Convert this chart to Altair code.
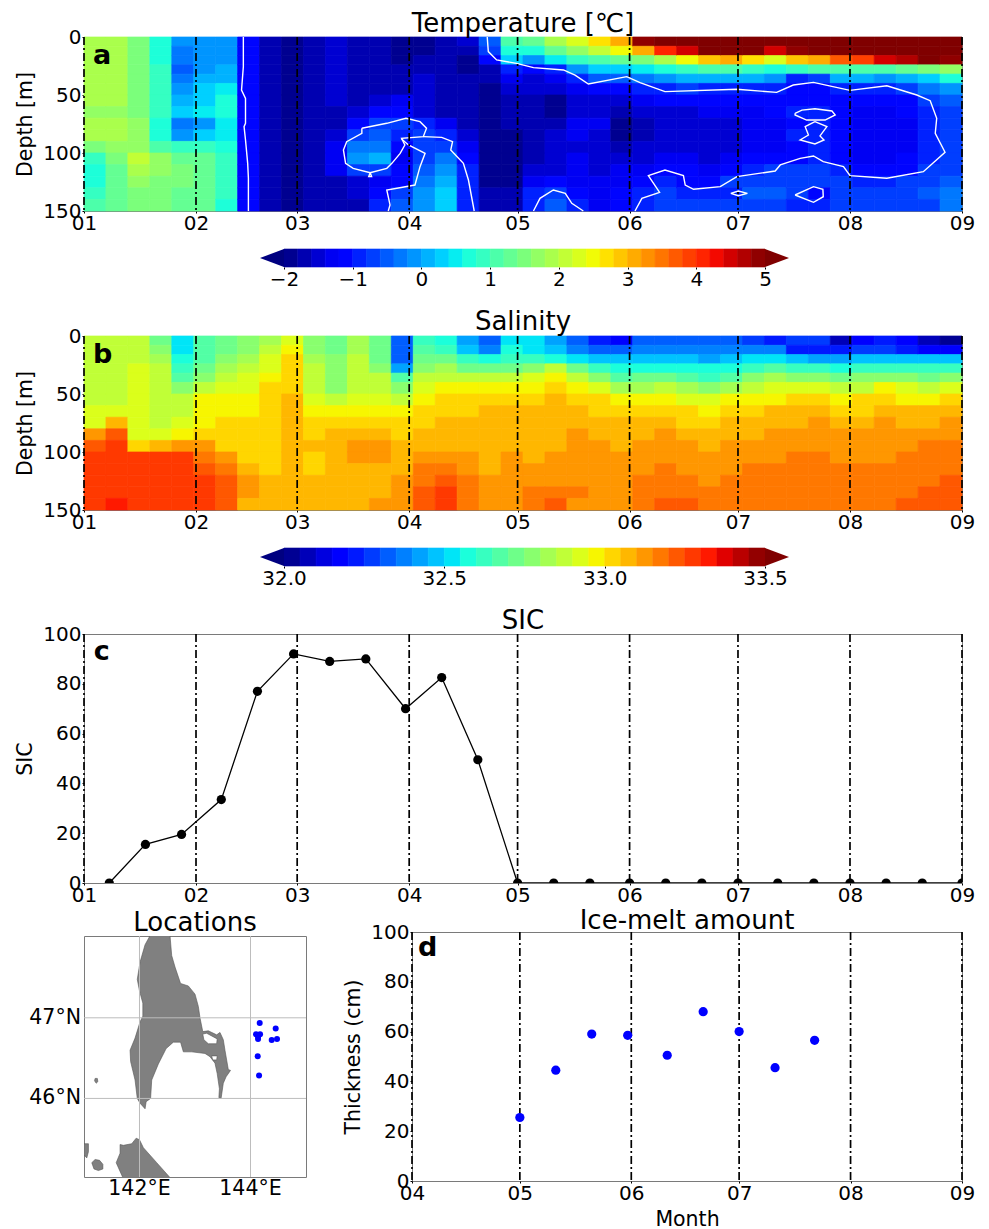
import altair as alt
import pandas as pd
from bisect import bisect_right

FONT = "DejaVu Sans"
MONTH_DAYS = [0, 31, 59, 90, 120, 151, 181, 212, 243]
MONTH_LABELS = ["01", "02", "03", "04", "05", "06", "07", "08", "09"]
D_MONTH_DAYS = [0, 30, 61, 91, 122, 153]
D_MONTH_LABELS = ["04", "05", "06", "07", "08", "09"]
DEPTH_EDGES = [0, 8, 16, 24, 32, 40, 50, 60, 70, 80, 90, 100, 110, 120, 130, 140, 150]
N_COLS = 40
TOTAL_DAYS = 243

# one inner list per time column, top to bottom
TEMP = [
 [1.9,1.9,1.9,1.9,1.9,1.8,1.8,1.7,1.9,1.8,1.4,0.9,0.6,0.6,0.8,1.0],
 [1.9,1.9,1.85,1.85,1.8,1.8,1.8,1.75,1.85,1.8,1.6,1.5,1.2,1.2,1.3,1.3],
 [1.4,1.4,1.4,1.4,1.4,1.4,1.4,1.5,1.6,1.6,1.7,2.0,1.9,1.6,1.5,1.5],
 [0.6,0.6,0.7,0.8,0.9,0.9,0.9,0.9,0.7,0.7,1.1,1.6,1.6,1.5,1.4,1.4],
 [-0.2,-0.3,-0.4,-0.5,-0.4,-0.2,0.1,0.3,-0.4,-0.1,0.8,1.3,1.4,1.4,1.3,1.3],
 [-0.2,-0.2,-0.2,-0.1,0.0,0.2,0.3,0.4,-0.2,0.2,0.8,1.2,1.3,1.3,1.3,1.3],
 [-0.1,-0.1,-0.1,0.0,0.1,0.5,0.6,0.7,0.4,0.4,0.7,0.9,0.9,0.8,0.8,0.7],
 [-1.2,-1.2,-1.2,-1.2,-1.2,-1.2,-1.2,-1.2,-1.2,-1.2,-1.2,-1.2,-1.2,-1.2,-1.2,-1.2],
 [-1.8,-1.8,-1.8,-1.8,-1.8,-1.8,-1.8,-1.8,-1.8,-1.8,-1.8,-1.8,-1.8,-1.8,-1.8,-1.8],
 [-1.9,-1.9,-1.9,-1.9,-1.9,-1.9,-1.9,-1.9,-1.9,-1.9,-1.9,-1.9,-1.9,-1.9,-1.9,-1.9],
 [-1.8,-1.7,-1.7,-1.7,-1.7,-1.7,-1.7,-1.8,-1.8,-1.8,-1.8,-1.8,-1.8,-1.8,-1.8,-1.8],
 [-1.6,-1.6,-1.6,-1.6,-1.6,-1.6,-1.6,-1.8,-1.8,-1.5,-1.3,-1.3,-1.4,-1.7,-1.8,-1.8],
 [-1.7,-1.8,-1.8,-1.8,-1.8,-1.8,-1.7,-1.6,-1.1,-0.7,-0.3,-0.2,-0.8,-1.6,-1.6,-1.7],
 [-1.8,-1.8,-1.8,-1.8,-1.8,-1.7,-1.6,-1.2,-0.8,-0.6,-0.3,0.0,-0.8,-1.3,-1.1,-0.9],
 [-1.9,-1.9,-1.9,-1.8,-1.7,-1.7,-1.4,-1.2,-0.8,-0.9,-1.1,-1.3,-1.2,-1.1,-0.8,-0.6],
 [-1.9,-1.9,-1.8,-1.7,-1.6,-1.5,-1.5,-1.5,-0.9,-0.8,-0.7,-0.7,-0.6,-0.4,-0.2,-0.1],
 [-1.8,-1.7,-1.7,-1.8,-1.7,-1.7,-1.7,-1.7,-1.4,-0.9,-0.7,-0.4,-0.1,0.1,0.3,0.3],
 [-1.5,-1.8,-1.9,-1.9,-1.8,-1.8,-1.8,-1.8,-1.7,-1.5,-1.3,-1.2,-1.0,-0.9,-0.9,-0.9],
 [-0.6,-0.7,-1.2,-1.7,-1.8,-1.9,-1.9,-1.9,-1.9,-1.9,-1.9,-1.9,-1.9,-1.9,-1.8,-1.7],
 [1.0,0.7,0.2,-1.0,-1.3,-1.6,-1.7,-1.8,-1.8,-1.9,-1.9,-1.9,-1.9,-1.9,-1.8,-1.8],
 [1.3,0.6,-0.2,-1.1,-1.5,-1.6,-1.8,-1.8,-1.7,-1.8,-1.8,-1.8,-1.6,-1.4,-1.0,-0.9],
 [1.9,1.3,0.5,-0.9,-1.3,-1.6,-1.9,-1.9,-1.7,-1.6,-1.6,-1.6,-1.5,-1.2,-0.7,-0.5],
 [2.3,1.6,0.8,-0.2,-0.9,-1.3,-1.5,-1.5,-1.4,-1.4,-1.5,-1.4,-1.4,-1.3,-1.1,-1.0],
 [2.7,2.1,1.1,0.2,-0.5,-1.2,-1.5,-1.5,-1.4,-1.5,-1.6,-1.6,-1.5,-1.4,-1.3,-1.3],
 [3.0,2.4,1.3,0.2,-0.5,-1.1,-1.6,-1.8,-1.9,-1.9,-1.8,-1.6,-1.4,-1.3,-1.2,-1.2],
 [4.8,3.0,1.5,0.5,-0.3,-1.0,-1.4,-1.6,-1.7,-1.7,-1.6,-1.5,-1.3,-1.1,-0.9,-0.9],
 [5.0,4.0,1.9,0.7,-0.1,-0.9,-1.2,-1.5,-1.6,-1.6,-1.6,-1.4,-1.1,-0.9,-0.8,-0.8],
 [5.0,4.5,2.4,0.9,0.0,-0.8,-1.2,-1.5,-1.6,-1.6,-1.6,-1.4,-1.2,-1.1,-0.9,-0.8],
 [5.0,5.0,2.8,1.0,0.0,-0.9,-1.2,-1.4,-1.6,-1.6,-1.6,-1.5,-1.3,-1.1,-0.9,-0.8],
 [5.0,5.0,3.0,1.1,0.1,-0.9,-1.2,-1.4,-1.6,-1.6,-1.6,-1.4,-1.1,-0.8,-0.9,-0.8],
 [5.0,5.0,2.6,0.9,0.0,-1.0,-1.2,-1.3,-1.4,-1.4,-1.3,-1.2,-1.0,-0.7,-0.6,-0.8],
 [5.0,4.5,2.2,0.7,-0.2,-0.9,-1.1,-1.2,-1.3,-1.3,-1.3,-1.1,-0.8,-0.7,-0.6,-0.7],
 [5.0,4.9,2.8,0.9,-0.9,-1.1,-1.2,-0.9,-1.1,-0.9,-1.1,-1.1,-0.8,-0.7,-0.8,-0.9],
 [5.0,5.0,3.1,1.0,-0.7,-1.1,-1.1,-0.9,-1.0,-0.9,-1.0,-0.9,-0.7,-0.7,-1.05,-0.9],
 [5.0,5.0,3.6,1.1,0.0,-1.0,-1.2,-1.1,-1.2,-1.2,-1.2,-1.1,-0.9,-0.8,-0.8,-0.8],
 [5.0,5.0,3.8,1.0,0.0,-1.0,-1.2,-1.3,-1.3,-1.3,-1.3,-1.3,-1.2,-0.9,-0.8,-0.8],
 [5.0,5.0,4.4,1.0,-0.1,-1.0,-1.2,-1.3,-1.4,-1.3,-1.3,-1.3,-1.2,-0.9,-0.8,-0.8],
 [5.0,5.0,4.7,1.2,0.1,-0.8,-1.1,-1.2,-1.3,-1.3,-1.3,-1.2,-1.1,-0.8,-0.7,-0.7],
 [5.0,5.0,5.0,1.5,0.3,-0.4,-0.8,-0.9,-0.9,-1.0,-1.0,-0.9,-0.8,-0.7,-0.6,-0.7],
 [5.0,5.0,4.8,1.6,0.6,-0.2,-0.6,-0.7,-0.7,-0.7,-0.8,-0.7,-0.7,-0.6,-0.4,-0.3],
]

SALT = [
 [32.87,32.87,32.87,32.87,32.87,32.87,32.87,32.92,32.92,33.1,33.2,33.25,33.25,33.25,33.25,33.25],
 [32.87,32.87,32.87,32.87,32.87,32.87,32.87,32.92,33.05,33.2,33.27,33.27,33.27,33.27,33.27,33.3],
 [32.87,32.87,32.87,32.92,32.92,32.92,32.92,32.92,32.92,32.92,33.0,33.27,33.27,33.27,33.27,33.27],
 [32.72,32.77,32.8,32.85,32.87,32.87,32.87,32.87,32.87,32.92,33.05,33.27,33.27,33.27,33.27,33.27],
 [32.5,32.5,32.55,32.6,32.67,32.75,32.87,32.87,32.92,32.97,33.1,33.25,33.27,33.27,33.27,33.27],
 [32.67,32.67,32.67,32.7,32.75,32.87,32.95,32.95,32.95,33.02,33.1,33.17,33.22,33.25,33.25,33.25],
 [32.72,32.72,32.75,32.8,32.85,32.92,32.97,32.97,33.0,33.02,33.03,33.12,33.15,33.2,33.22,33.22],
 [32.77,32.77,32.82,32.87,32.92,32.92,32.97,32.97,33.0,33.02,33.03,33.03,33.07,33.1,33.1,33.08],
 [32.82,32.85,32.9,32.92,32.97,33.0,33.02,33.02,33.02,33.02,33.02,33.02,33.02,33.07,33.07,33.07],
 [32.92,32.95,33.0,33.02,33.03,33.03,33.05,33.07,33.05,33.07,33.07,33.07,33.07,33.07,33.07,33.07],
 [32.77,32.77,32.82,32.85,32.87,32.87,32.92,32.97,33.02,33.03,33.05,33.03,33.03,33.07,33.07,33.07],
 [32.72,32.72,32.77,32.77,32.77,32.77,32.87,32.95,33.02,33.05,33.07,33.07,33.07,33.07,33.07,33.07],
 [32.82,32.82,32.85,32.85,32.85,32.85,32.9,32.95,33.02,33.07,33.1,33.12,33.08,33.07,33.07,33.07],
 [32.7,32.7,32.72,32.77,32.85,32.87,32.92,32.97,33.02,33.07,33.1,33.1,33.07,33.07,33.07,33.12],
 [32.3,32.3,32.3,32.4,32.67,32.77,32.87,32.95,33.02,33.03,33.07,33.07,33.07,33.1,33.12,33.12],
 [32.62,32.67,32.72,32.77,32.85,32.92,32.97,33.02,33.03,33.05,33.07,33.12,33.15,33.17,33.2,33.22],
 [32.55,32.6,32.72,32.82,32.87,32.97,33.02,33.03,33.05,33.05,33.07,33.13,33.18,33.22,33.25,33.25],
 [32.4,32.45,32.6,32.72,32.87,32.97,33.02,33.03,33.05,33.05,33.07,33.1,33.12,33.17,33.17,33.17],
 [32.3,32.37,32.55,32.72,32.85,32.97,33.02,33.05,33.05,33.07,33.07,33.07,33.07,33.12,33.12,33.12],
 [32.5,32.55,32.62,32.72,32.85,32.95,33.02,33.05,33.07,33.07,33.07,33.1,33.12,33.12,33.12,33.12],
 [32.5,32.52,32.6,32.75,32.92,32.97,33.02,33.07,33.07,33.07,33.07,33.07,33.12,33.12,33.17,33.17],
 [32.42,32.47,32.55,32.85,32.97,33.02,33.05,33.07,33.07,33.07,33.07,33.12,33.12,33.12,33.17,33.22],
 [32.3,32.37,32.5,32.7,32.87,32.97,33.02,33.07,33.07,33.12,33.12,33.12,33.12,33.12,33.17,33.12],
 [32.2,32.32,32.47,32.62,32.77,32.92,33.02,33.03,33.07,33.07,33.12,33.12,33.12,33.12,33.12,33.12],
 [32.15,32.32,32.45,32.55,32.67,32.82,32.97,33.02,33.05,33.07,33.07,33.12,33.12,33.12,33.12,33.12],
 [32.3,32.37,32.47,32.57,32.7,32.82,32.97,33.02,33.07,33.07,33.12,33.12,33.12,33.17,33.17,33.17],
 [32.32,32.37,32.47,32.57,32.7,32.87,32.97,33.02,33.07,33.12,33.12,33.12,33.17,33.17,33.17,33.22],
 [32.32,32.37,32.45,32.55,32.65,32.8,32.92,33.0,33.02,33.07,33.12,33.12,33.12,33.17,33.17,33.2],
 [32.32,32.37,32.42,32.55,32.62,32.75,32.9,32.97,33.02,33.07,33.07,33.12,33.12,33.12,33.17,33.17],
 [32.3,32.35,32.45,32.55,32.67,32.82,32.95,33.02,33.05,33.07,33.12,33.12,33.12,33.17,33.17,33.17],
 [32.25,32.35,32.5,32.62,32.75,32.87,32.97,33.02,33.07,33.07,33.12,33.12,33.17,33.17,33.17,33.17],
 [32.2,32.35,32.52,32.67,32.8,32.9,32.97,33.05,33.07,33.12,33.12,33.12,33.17,33.17,33.17,33.17],
 [32.25,32.2,32.45,32.62,32.75,32.92,33.02,33.05,33.07,33.12,33.12,33.17,33.17,33.17,33.17,33.17],
 [32.25,32.2,32.42,32.6,32.75,32.92,33.02,33.07,33.12,33.12,33.12,33.17,33.17,33.17,33.17,33.17],
 [32.05,32.2,32.42,32.57,32.7,32.87,32.97,33.02,33.07,33.12,33.12,33.12,33.17,33.17,33.17,33.17],
 [32.15,32.25,32.47,32.6,32.75,32.87,33.0,33.02,33.07,33.12,33.12,33.12,33.17,33.17,33.17,33.17],
 [32.2,32.25,32.47,32.62,32.77,32.95,33.02,33.05,33.1,33.12,33.12,33.12,33.17,33.17,33.17,33.17],
 [32.15,32.22,32.47,32.62,32.75,32.9,32.97,33.05,33.07,33.12,33.12,33.17,33.17,33.17,33.17,33.22],
 [32.05,32.17,32.45,32.6,32.72,32.87,32.97,33.05,33.07,33.12,33.17,33.17,33.17,33.17,33.22,33.22],
 [32.03,32.15,32.45,32.6,32.75,32.9,33.0,33.07,33.12,33.12,33.17,33.17,33.17,33.2,33.22,33.22],
]

# white contour lines of panel a: (day, depth)
CONTOURS = [
 [(44.1,0),(44.1,25.6),(43.6,45.7),(44.7,52.9),(44.7,74.4),(44.3,77.3),(44.7,88.8),(45.3,108.9),(45.5,121.8),(45.5,150)],
 [(76.9,78.7),(83.8,74.4),(89.1,70.1),(93.0,73),(94.8,78.7),(93.9,85.9),(87.9,87.4),(88.8,93.1),(87.5,100.3),(85.2,108.9),(83.8,113.2),(79.2,117),(74.5,113.2),(72.4,108.9),(71.8,97.4),(72.7,90.2),(76.9,83),(76.9,78.7)],
 [(93.9,85.9),(99.0,86.5),(102.0,90.2),(101.5,97.4),(105,108.9),(106.4,123.3),(108,150)],
 [(87.9,88),(89.8,93.1),(94.4,100.3),(93.0,111.8),(91.6,127.6),(83.8,131.9),(84.7,144.8),(84.2,150)],
 [(111.6,0),(111.9,12.6),(114.2,19.8),(119.7,22.7),(124.4,26.4),(132.7,28.4),(135.9,32.8),(139.6,40.5),(150.2,34.2),(153.9,39.4),(160.8,47.1),(180.7,45.1),(191.7,47.7),(196.3,41.4),(201.9,39.1),(212,46),(222.2,42),(230.5,50),(234.2,54.9),(236,70.1),(235.6,83),(238.3,99.4),(232.3,116.1),(222.2,121.8),(212,119.5),(210.2,111.8),(204.6,107.5),(201.9,102.6),(198.2,104.6),(192.7,110.3),(191.3,115.5),(180.7,120.4),(176.1,129),(168.7,131.3),(166.4,127.6),(165.9,119.5),(160.8,114.7),(156.2,119.5),(159.3,133.9),(154.4,139.1),(152.5,150)],
 [(124.4,150),(126.2,139.1),(129.9,131.9),(133.2,134.8),(135,143.4),(138.2,150)],
 [(196.8,65.8),(198.7,63),(202.3,61.8),(207,63.8),(207.9,67.2),(205.1,71.6),(200,71.6),(196.8,67.2),(196.8,65.8)],
 [(202.3,73),(205.6,77.3),(203.7,85.3),(204.8,88.8),(202.3,92.2),(198.2,88.8),(200.5,84.5),(199.6,77.3),(202.3,73)],
 [(179,134.8),(181.1,132.8),(183.6,134.8),(181.1,136.8),(179,134.8)],
 [(196.8,136.2),(201.9,129),(204.5,131.3),(204.6,137.7),(201.9,142.5),(196.8,136.2)],
 [(79.2,117),(78.8,120.4),(79.6,120.4),(79.2,117)],
]

SIC_DAYS = [7,17,27,38,48,58,68,78,89,99,109,120,130,140,151,161,171,181,192,202,212,222,232,243]
SIC_VALUES = [0,15.5,19.5,33.5,77,92,89,90,70,82.5,49.5,0,0,0,0,0,0,0,0,0,0,0,0,0]

MELT_DAYS = [30,40,50,60,71,81,91,101,112]
MELT_VALUES = [25.5,44.5,59,58.5,50.5,68,60,45.5,56.5]

STN_LON = [144.166,144.454,144.10,144.172,144.136,144.136,144.382,144.478,144.13,144.154]
STN_LAT = [46.937,46.867,46.796,46.796,46.767,46.738,46.726,46.738,46.526,46.286]

LAND_MAIN = [(142.19,48.0),(142.55,48.0),(142.58,47.76),(142.64,47.62),(142.74,47.42),(142.88,47.39),(143.00,47.29),(143.06,47.14),(143.09,47.00),(143.14,46.83),(143.24,46.84),(143.39,46.79),(143.45,46.82),(143.51,46.73),(143.54,46.60),(143.60,46.36),(143.64,46.35),(143.56,46.27),(143.51,46.19),(143.47,46.00),(143.43,46.01),(143.44,46.12),(143.40,46.31),(143.36,46.44),(143.27,46.52),(143.18,46.56),(142.94,46.58),(142.79,46.58),(142.74,46.70),(142.61,46.70),(142.48,46.62),(142.34,46.43),(142.22,46.23),(142.20,46.00),(142.12,45.96),(142.10,45.87),(142.01,45.94),(141.96,46.00),(141.92,46.23),(141.84,46.46),(141.83,46.60),(141.92,46.75),(142.01,46.95),(142.06,47.02),(142.06,47.18),(142.00,47.33),(141.96,47.47),(142.01,47.68),(142.10,47.89),(142.19,48.0)]
LAGOON_A = [(143.14,46.80),(143.16,46.73),(143.24,46.68),(143.39,46.68),(143.40,46.74),(143.21,46.81),(143.14,46.80)]
LAGOON_B = [(143.30,46.53),(143.32,46.48),(143.39,46.48),(143.40,46.53),(143.30,46.53)]
LAND_SOUTH = [(141.58,45.19),(141.65,45.31),(141.65,45.42),(141.71,45.41),(141.86,45.43),(141.94,45.50),(142.00,45.48),(142.07,45.38),(142.31,45.19),(142.55,45.0),(141.70,45.0),(141.58,45.19)]
LAND_OVAL = [(141.14,45.19),(141.20,45.23),(141.28,45.22),(141.34,45.17),(141.34,45.11),(141.26,45.09),(141.18,45.11),(141.14,45.19)]
LAND_LEFT = [(141.0,45.43),(141.08,45.43),(141.08,45.33),(141.05,45.25),(141.0,45.29),(141.0,45.43)]
LAND_TINY = [(141.20,46.25),(141.24,46.25),(141.25,46.21),(141.22,46.19),(141.19,46.22),(141.20,46.25)]
GRID_LON = [142, 144]
GRID_LAT = [46, 47]

TEMP_LEVELS = [round(-2 + 0.2 * i, 1) for i in range(36)]
SALT_LEVELS = [round(32 + 0.05 * i, 2) for i in range(31)]

FRAME = "#7a7a7a"
GAPS = {"a_bar": 38, "bar_b": 69, "b_bar": 38, "bar_c": 68, "c_row": 49}
BAR_H = 18
PANEL_W = 878
TITLE_SIZE = 26
LETTER_SIZE = 27


def jet(t):
    def seg(pts):
        for (x0, y0), (x1, y1) in zip(pts, pts[1:]):
            if t <= x1:
                return y0 + (y1 - y0) * (t - x0) / (x1 - x0)
        return pts[-1][1]
    r = seg([(0, 0), (0.35, 0), (0.66, 1), (0.89, 1), (1, 0.5)])
    g = seg([(0, 0), (0.125, 0), (0.375, 1), (0.64, 1), (0.91, 0), (1, 0)])
    b = seg([(0, 0.5), (0.11, 1), (0.34, 1), (0.65, 0), (1, 0)])
    return "#%02x%02x%02x" % (round(r * 255), round(g * 255), round(b * 255))


def level_colors(levels):
    n = len(levels) - 1
    return [jet((i + 0.5) / n) for i in range(n)]


def month_expr(days, labels):
    return "{" + ",".join(f"'{d}':'{l}'" for d, l in zip(days, labels)) + "}[datum.value]"


def x_enc(field, days, labels, domain, title=None, title_pad=2):
    return alt.X(field, scale=alt.Scale(domain=domain, nice=False, zero=False),
                 axis=alt.Axis(values=days, labelExpr=month_expr(days, labels), title=title, titlePadding=title_pad,
                               labelOverlap=False, labelFlush=False, labelPadding=0))


def rules(days, xe):
    return (alt.Chart(pd.DataFrame({"day": days}))
            .mark_rule(color="black", strokeWidth=1.7, strokeDash=[8, 3, 2, 3], clip=False)
            .encode(x=xe))


def letter(text, day, val, xe, ye):
    return (alt.Chart(pd.DataFrame({"day": [day], "val": [val], "t": [text]}))
            .mark_text(font=FONT, fontWeight="bold", fontSize=LETTER_SIZE, align="left", baseline="middle", color="black")
            .encode(x=xe, y=ye, text="t:N"))


def heading(text, offset):
    return alt.Title(text, fontSize=TITLE_SIZE, font=FONT, fontWeight="normal", offset=offset)


def heat_panel(matrix, levels, title, mark_letter, title_offset, contours=None):
    colors = level_colors(levels)
    palette = [colors[0]] + colors + [jet(1.0)]
    rows = []
    for i, col in enumerate(matrix):
        for j, v in zip(range(len(DEPTH_EDGES) - 1), col, strict=True):
            rows.append({"day": i * TOTAL_DAYS / N_COLS, "x1": (i + 1) * TOTAL_DAYS / N_COLS,
                         "val": DEPTH_EDGES[j], "y1": DEPTH_EDGES[j + 1], "v": v,
                         "c": palette[bisect_right(levels, v)]})
    dom = [0, TOTAL_DAYS]
    xd = x_enc("day:Q", MONTH_DAYS, MONTH_LABELS, dom)
    yd = alt.Y("val:Q", scale=alt.Scale(domain=[0, 150], reverse=True, nice=False, zero=False),
               axis=alt.Axis(values=[0, 50, 100, 150], title="Depth [m]", titlePadding=7, labelPadding=1))
    heat = (alt.Chart(pd.DataFrame(rows))
            .mark_rect(strokeWidth=0.7).encode(
        x=xd, x2="x1:Q", y=yd, y2="y1:Q",
        color=alt.Color("c:N", scale=None), stroke=alt.Stroke("c:N", scale=None)))
    layers = [heat]
    if contours:
        crow = []
        for k, line in enumerate(contours):
            for o, (d, z) in enumerate(line):
                crow.append({"day": d, "val": z, "k": k, "o": o})
        layers.append(alt.Chart(pd.DataFrame(crow)).mark_line(color="white", strokeWidth=1.4).encode(
            x=xd, y=yd, detail="k:N", order="o:Q"))
    layers.append(rules(MONTH_DAYS, xd))
    layers.append(letter(mark_letter, 2.5, 16, xd, yd))
    return alt.layer(*layers, title=heading(title, title_offset)).properties(
        width=PANEL_W, height=174, view=alt.ViewConfig(stroke=FRAME))


def colorbar(levels, ticks, fmt, ext):
    colors = level_colors(levels)
    df = pd.DataFrame({"p": levels[:-1], "hi": levels[1:], "c": colors})
    xe = alt.X("p:Q", scale=alt.Scale(domain=[levels[0], levels[-1]], range=[200, 681], nice=False, zero=False),
               axis=alt.Axis(values=ticks, format=fmt, title=None, labelPadding=0, labelFlush=False))
    rect = alt.Chart(df).mark_rect(strokeWidth=0.6).encode(
        x=xe, x2="hi:Q", y=alt.value(0), y2=alt.value(BAR_H),
        color=alt.Color("c:N", scale=None), stroke=alt.Stroke("c:N", scale=None))
    left = alt.Chart(pd.DataFrame({"p": [levels[0] - ext]})).mark_point(
        filled=True, opacity=1, size=576, shape="M1,-0.75L-1,0L1,0.75Z", color=jet(0.0), strokeWidth=0).encode(
        x=xe, y=alt.value(BAR_H / 2))
    right = alt.Chart(pd.DataFrame({"p": [levels[-1] + ext]})).mark_point(
        filled=True, opacity=1, size=576, shape="M-1,-0.75L1,0L-1,0.75Z", color=jet(1.0), strokeWidth=0).encode(
        x=xe, y=alt.value(BAR_H / 2))
    return alt.layer(rect, left, right).properties(width=PANEL_W, height=BAR_H, view=alt.ViewConfig(stroke=None))


def spacer(h):
    return alt.Chart(pd.DataFrame({"s": [0]})).mark_point(opacity=0).encode(
        x=alt.value(0), y=alt.value(0)).properties(width=PANEL_W, height=h, view=alt.ViewConfig(stroke=None))


def sic_panel():
    xd = x_enc("day:Q", MONTH_DAYS, MONTH_LABELS, [0, TOTAL_DAYS])
    yd = alt.Y("val:Q", scale=alt.Scale(domain=[0, 100], nice=False, zero=False),
               axis=alt.Axis(values=[0, 20, 40, 60, 80, 100], title="SIC", titlePadding=7, labelPadding=1))
    df = pd.DataFrame({"day": SIC_DAYS, "val": SIC_VALUES})
    line = alt.Chart(df).mark_line(color="black", strokeWidth=1.3, clip=True).encode(x=xd, y=yd)
    pts = alt.Chart(df).mark_circle(color="black", size=85, opacity=1, clip=True).encode(x=xd, y=yd)
    return alt.layer(rules(MONTH_DAYS, xd), line, pts, letter("c", 2.7, 92.8, xd, yd),
                     title=heading("SIC", -10)).properties(
        width=PANEL_W, height=249, view=alt.ViewConfig(stroke=FRAME))


def melt_panel():
    xd = x_enc("day:Q", D_MONTH_DAYS, D_MONTH_LABELS, [0, 153], "Month", 6)
    yd = alt.Y("val:Q", scale=alt.Scale(domain=[0, 100], nice=False, zero=False),
               axis=alt.Axis(values=[0, 20, 40, 60, 80, 100], title="Thickness (cm)", titlePadding=7, labelPadding=1))
    df = pd.DataFrame({"day": MELT_DAYS, "val": MELT_VALUES})
    pts = alt.Chart(df).mark_circle(color="#0000ff", size=85, opacity=1).encode(x=xd, y=yd)
    return alt.layer(rules(D_MONTH_DAYS, xd), pts, letter("d", 1.7, 93.6, xd, yd),
                     title=heading("Ice-melt amount", -12)).properties(
        width=550, height=249, view=alt.ViewConfig(stroke=FRAME))


def feature(rings):
    return {"type": "Feature", "properties": {},
            "geometry": {"type": "Polygon", "coordinates": [[list(p) for p in r] for r in rings]}}


def map_panel():
    feats = [feature([LAND_MAIN, LAGOON_A, LAGOON_B]), feature([LAND_SOUTH]), feature([LAND_OVAL]),
             feature([LAND_LEFT]), feature([LAND_TINY])]
    proj = dict(type="mercator", scale=3180, center=[143, 46.5], translate=[111, 122.3])
    land = alt.Chart(alt.Data(values=feats)).mark_geoshape(fill="#808080", stroke="#555555", strokeWidth=0.6)
    g = []
    for k, lon in enumerate(GRID_LON):
        g += [{"lon": lon, "lat": 45, "g": f"x{k}", "o": 0}, {"lon": lon, "lat": 48, "g": f"x{k}", "o": 1}]
    for k, lat in enumerate(GRID_LAT):
        g += [{"lon": 141, "lat": lat, "g": f"y{k}", "o": 0}, {"lon": 145, "lat": lat, "g": f"y{k}", "o": 1}]
    grid = alt.Chart(pd.DataFrame(g)).mark_line(color="#bdbdbd", strokeWidth=1).encode(
        longitude="lon:Q", latitude="lat:Q", detail="g:N", order="o:Q")
    pts = alt.Chart(pd.DataFrame({"lon": STN_LON, "lat": STN_LAT})).mark_circle(color="#0000ff", size=36, opacity=1).encode(
        longitude="lon:Q", latitude="lat:Q")
    lon_lab = alt.Chart(pd.DataFrame({"lon": GRID_LON, "lat": [45, 45], "t": [f"{v}°E" for v in GRID_LON]})).mark_text(
        font=FONT, fontSize=20.5, baseline="top", dy=1, color="black", clip=False).encode(longitude="lon:Q", latitude="lat:Q", text="t:N")
    lat_lab = alt.Chart(pd.DataFrame({"lon": [141, 141], "lat": GRID_LAT, "t": [f"{v}°N" for v in GRID_LAT]})).mark_text(
        font=FONT, fontSize=20.5, align="right", dx=-3, color="black", clip=False).encode(longitude="lon:Q", latitude="lat:Q", text="t:N")
    return alt.layer(land, grid, pts, lon_lab, lat_lab,
                     title=heading("Locations", 0)).project(**proj).properties(
        width=222, height=241, view=alt.ViewConfig(stroke=FRAME))


bottom = alt.hconcat(map_panel(), melt_panel(), spacing=106, bounds="flush", center=True)

chart = alt.vconcat(
    heat_panel(TEMP, TEMP_LEVELS, "Temperature [℃]", "a", -10, CONTOURS),
    spacer(GAPS["a_bar"]),
    colorbar(TEMP_LEVELS, [-2, -1, 0, 1, 2, 3, 4, 5], "d", 0.175),
    spacer(GAPS["bar_b"]),
    heat_panel(SALT, SALT_LEVELS, "Salinity", "b", -9),
    spacer(GAPS["b_bar"]),
    colorbar(SALT_LEVELS, [32, 32.5, 33, 33.5], ".1f", 0.0374),
    spacer(GAPS["bar_c"]),
    sic_panel(),
    spacer(GAPS["c_row"]),
    bottom,
    spacing=0, bounds="flush",
).properties(
    padding={"left": 7, "top": 2, "right": 5, "bottom": 2}, background="white"
).configure_view(stroke=None).configure_axis(
    grid=False, domain=False, tickColor="black", tickSize=2, tickWidth=1,
    labelFont=FONT, labelFontSize=20, labelColor="black",
    titleFont=FONT, titleFontSize=20.5, titleFontWeight="normal", titleColor="black",
).configure_concat(spacing=0)

chart.save("out.html", embed_options={"renderer": "svg", "actions": False})
